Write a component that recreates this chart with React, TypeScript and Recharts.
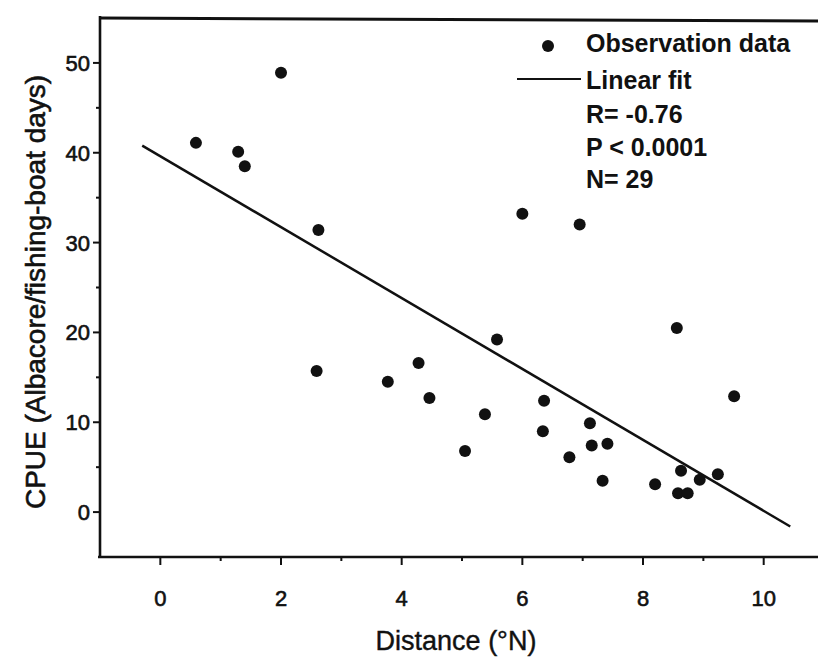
import React from "react";
import { ComposedChart, Scatter, XAxis, YAxis } from "recharts";

// distance (°N) vs CPUE
const distance = [
  0.59, 1.29, 1.4, 2.0, 2.62, 2.59, 3.77, 4.28, 4.46, 5.05,
  5.38, 5.58, 6.0, 6.95, 6.36, 6.34, 6.78, 7.12, 7.15, 7.41,
  7.33, 8.2, 8.56, 8.63, 8.58, 8.74, 8.94, 9.24, 9.51,
];
const cpue = [
  41.1, 40.1, 38.5, 48.9, 31.4, 15.7, 14.5, 16.6, 12.7, 6.8,
  10.9, 19.2, 33.2, 32.0, 12.4, 9.0, 6.1, 9.9, 7.4, 7.6,
  3.5, 3.1, 20.5, 4.6, 2.1, 2.1, 3.6, 4.2, 12.9,
];

// linear fit end points
const fitX = [-0.3, 10.44];
const fitY = [40.8, -1.6];

const xTicks = [0, 1, 2, 3, 4, 5, 6, 7, 8, 9, 10];
const yTicks = [0, 5, 10, 15, 20, 25, 30, 35, 40, 45, 50];

const legendLines = ["Observation data", "Linear fit", "R= -0.76", "P < 0.0001", "N= 29"];

const FONT = '"Liberation Sans", Arial, sans-serif';
const INK = "#111";

// chart layout
const W = 818, H = 662;
const M = { top: 18, right: 0, left: 40, bottom: 55 };
const Y_AXIS_W = 60, X_AXIS_H = 50;
const plotL = M.left + Y_AXIS_W;
const plotR = W - M.right;
const plotT = M.top;
const plotB = H - M.bottom - X_AXIS_H;

const obsData = distance.map((x, i) => ({ x, y: cpue[i] }));
const fitData = fitX.map((x, i) => ({ x, y: fitY[i] }));

const Dot = (p: any) => <circle cx={p.cx} cy={p.cy} r={6} fill={INK} />;
const NoDot = () => <g />;

const XTick = ({ x, y, payload }: any) => {
  const major = payload.value % 2 === 0;
  return (
    <g>
      <line x1={x} x2={x} y1={y} y2={y + (major ? 8 : 4)} stroke={INK} strokeWidth={2} />
      {major && (
        <text x={x} y={y + 49} textAnchor="middle" fontSize={22} fontFamily={FONT}
          fill={INK} stroke={INK} strokeWidth={0.6}>
          {payload.value}
        </text>
      )}
    </g>
  );
};

const YTick = ({ x, y, payload }: any) => {
  const major = payload.value % 10 === 0;
  return (
    <g>
      <line x1={x - (major ? 7 : 4)} x2={x} y1={y} y2={y} stroke={INK} strokeWidth={2} />
      {major && (
        <text x={x - 10} y={y + 8} textAnchor="end" fontSize={22} fontFamily={FONT}
          fill={INK} stroke={INK} strokeWidth={0.6}>
          {payload.value}
        </text>
      )}
    </g>
  );
};

export default function App() {
  const lineTops = [43, 80, 114, 147, 179];
  return (
    <div style={{ position: "absolute", left: 0, top: 0, width: W, height: H, background: "#fff", fontFamily: FONT }}>
      <ComposedChart width={W} height={H} margin={M}>
        <XAxis
          type="number" dataKey="x" domain={[-1, 10.9]} ticks={xTicks} allowDataOverflow
          height={X_AXIS_H} tickSize={0} tickMargin={0} tickLine={false} tick={<XTick />}
          axisLine={false} interval={0}
        />
        <YAxis
          type="number" dataKey="y" domain={[-5, 55]} ticks={yTicks} allowDataOverflow
          width={Y_AXIS_W} tickSize={0} tickMargin={0} tickLine={false} tick={<YTick />}
          axisLine={false} interval={0}
        />
        <Scatter data={fitData} line={{ stroke: INK, strokeWidth: 2.5 }} shape={NoDot} isAnimationActive={false} />
        <Scatter data={obsData} shape={Dot} isAnimationActive={false} />
      </ComposedChart>

      {/* frame, legend, axis titles */}
      <svg width={W} height={H} style={{ position: "absolute", left: 0, top: 0, pointerEvents: "none" }}>
        <line x1={plotL} x2={plotL} y1={plotT - 2} y2={plotB + 1} stroke={INK} strokeWidth={2.6} />
        <line x1={plotL - 2} x2={plotR} y1={plotB} y2={plotB} stroke={INK} strokeWidth={2.6} />
        <line x1={plotL} x2={plotR} y1={plotT} y2={plotT + 3} stroke={INK} strokeWidth={3} />

        <circle cx={548} cy={46} r={6} fill={INK} />
        <line x1={517} x2={581} y1={79} y2={79} stroke={INK} strokeWidth={2} />
        {legendLines.map((t, i) => (
          <text key={t} x={586} y={lineTops[i] + 9} fontSize={25} fontWeight="bold" fontFamily={FONT} fill={INK}>
            {t}
          </text>
        ))}
        <text x={456} y={650} textAnchor="middle" fontSize={27} fontFamily={FONT}
          fill={INK} stroke={INK} strokeWidth={0.4}>
          Distance (°N)
        </text>
        <text
          x={35} y={292} textAnchor="middle" dominantBaseline="central" fontSize={28}
          fontFamily={FONT} fill={INK} stroke={INK} strokeWidth={0.6} transform="rotate(-90 35 292)"
        >
          CPUE (Albacore/fishing-boat days)
        </text>
      </svg>
    </div>
  );
}
